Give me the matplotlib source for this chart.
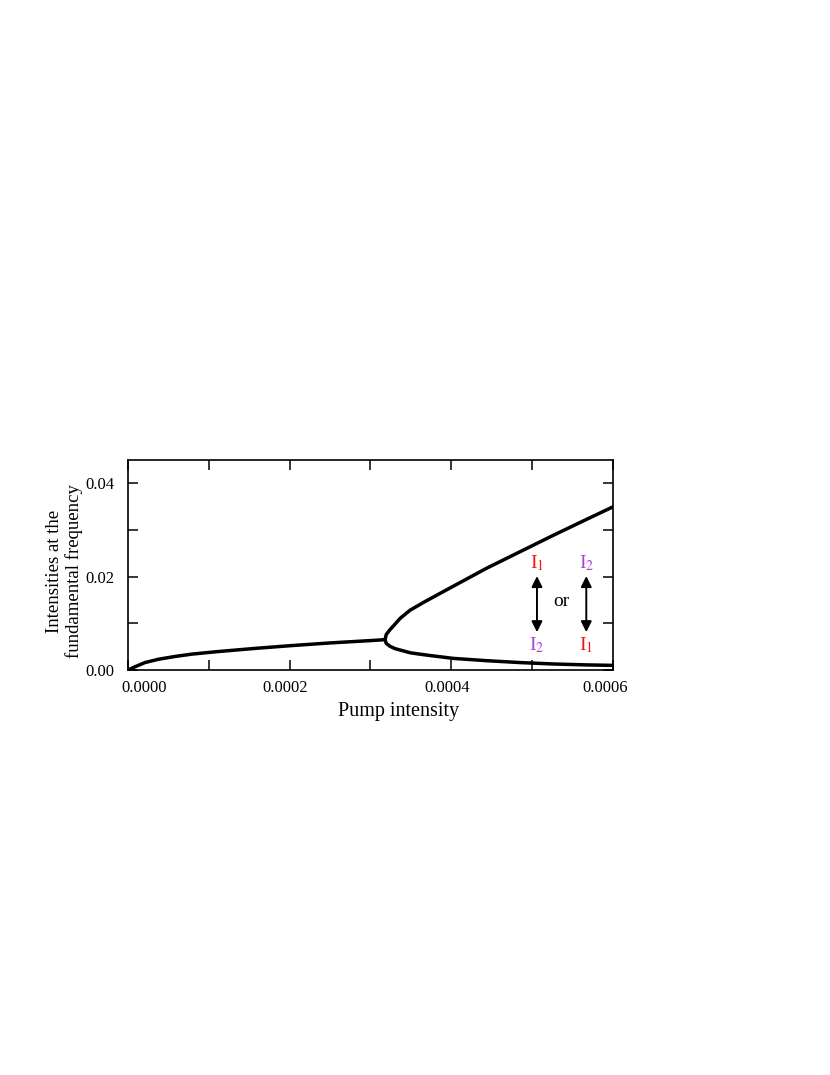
import numpy as np
import matplotlib
matplotlib.use('Agg')
import matplotlib.pyplot as plt
from matplotlib.transforms import ScaledTranslation

plt.rcParams['font.family'] = ['Liberation Serif', 'DejaVu Serif']
plt.rcParams['mathtext.fontset'] = 'stix'

# ---- data ----
# branch below threshold
pump_low = [0.0, 0.0000087, 0.000021, 0.0000375, 0.000058, 0.0000788, 0.000108,
            0.000155, 0.0002, 0.00025, 0.0003, 0.000318]
inten_low = [0.0, 0.0007, 0.0016, 0.0023, 0.0029, 0.0034, 0.0039,
             0.0046, 0.0052, 0.0058, 0.0063, 0.0065]
# split branches above threshold (upper -> turning point -> lower)
pump_split = [0.0006, 0.000567, 0.000526, 0.000485, 0.000444, 0.0004, 0.000367,
              0.000349, 0.000337, 0.000324, 0.0003195, 0.000318, 0.0003195,
              0.000324, 0.00033, 0.000349, 0.000361, 0.000374, 0.000402,
              0.000444, 0.000485, 0.000526, 0.000567, 0.0006]
inten_split = [0.0349, 0.0322, 0.0288, 0.0253, 0.0218, 0.0177, 0.0146,
               0.0128, 0.0111, 0.0086, 0.0076, 0.0065, 0.0057,
               0.0051, 0.0046, 0.0037, 0.0034, 0.0031, 0.0025,
               0.0020, 0.0016, 0.0013, 0.0011, 0.0010]

x_ticks = [0.0, 0.0001, 0.0002, 0.0003, 0.0004, 0.0005, 0.0006]
x_labels = ['0.0000', '', '0.0002', '', '0.0004', '', '0.0006']
y_ticks = [0.0, 0.01, 0.02, 0.03, 0.04]
y_labels = ['0.00', '', '0.02', '', '0.04']

RED = '#ff1010'
PURPLE = '#b040d8'

fig = plt.figure(figsize=(8.3, 10.75), dpi=100)
ax = fig.add_axes([0.1542, 0.3767, 0.5843, 0.1953])

ax.plot(pump_low, inten_low, color='black', lw=2.5, solid_capstyle='round',
        solid_joinstyle='round')
ax.plot(pump_split, inten_split, color='black', lw=2.5, solid_capstyle='round',
        solid_joinstyle='round')

ax.set_xlim(0, 0.0006)
ax.set_ylim(0, 0.0449)
ax.set_xticks(x_ticks)
ax.set_xticklabels(x_labels)
ax.set_yticks(y_ticks)
ax.set_yticklabels(y_labels)
ax.tick_params(direction='in', length=7, width=1.1, top=True, right=True,
               labelsize=12)
ax.tick_params(axis='y', pad=10)
ax.tick_params(axis='x', pad=7.5)
# the x tick labels sit a little off their ticks in the original
shifts_px = [16.5, 0, -5, 0, -4, 0, -8]
for lab, dx in zip(ax.get_xticklabels(), shifts_px):
    lab.set_transform(lab.get_transform() + ScaledTranslation(dx / 100, 0, fig.dpi_scale_trans))
for s in ax.spines.values():
    s.set_linewidth(1.2)

ax.set_xlabel('Pump intensity', fontsize=14.5)
ax.xaxis.set_label_coords(0.557, -0.152)
ax.set_ylabel('Intensities at the\nfundamental frequency', fontsize=13.5,
              linespacing=1.1, va='center')
ax.yaxis.set_label_coords(-0.131, 0.471)

# annotation: I1 <-> I2 or I2 <-> I1
for xa, top_lab, top_col, bot_lab, bot_col in [
        (0.000506, r'I$_1$', RED, r'I$_2$', PURPLE),
        (0.000567, r'I$_2$', PURPLE, r'I$_1$', RED)]:
    ax.text(xa, 0.0229, top_lab, color=top_col, fontsize=14, ha='center', va='center')
    ax.text(xa, 0.0053, bot_lab, color=bot_col, fontsize=14, ha='center', va='center')
    ax.annotate('', xy=(xa, 0.0201), xytext=(xa, 0.0081),
                arrowprops=dict(arrowstyle='<|-|>', color='black', lw=1.4,
                                mutation_scale=16, shrinkA=0, shrinkB=0))
ax.text(0.000536, 0.0146, 'or', fontsize=14, ha='center', va='center')

fig.savefig('out.png', dpi=100)
